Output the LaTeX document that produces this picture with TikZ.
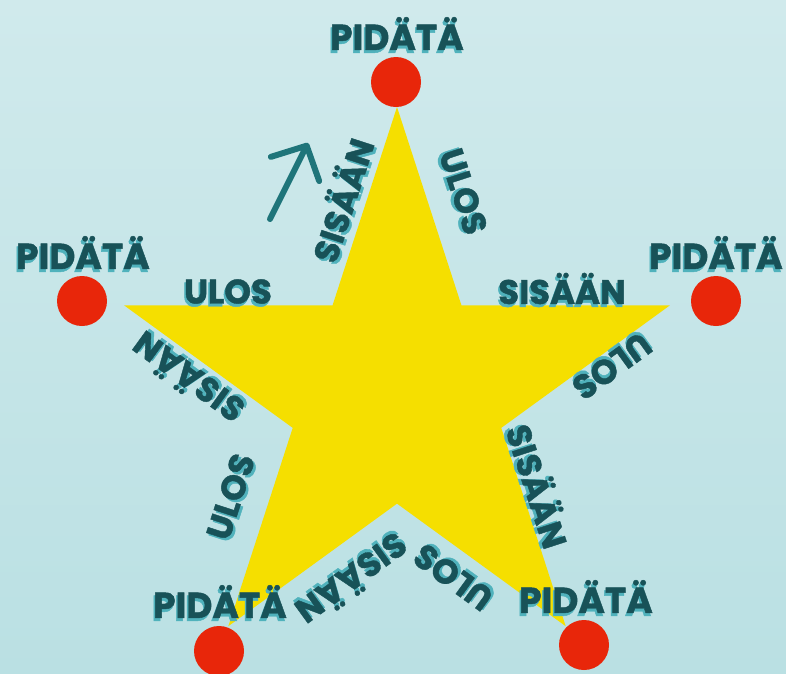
\documentclass[tikz,border=0pt]{standalone}
\usepackage{fontspec}
\setmainfont{Poppins}[BoldFeatures={FakeBold=1.2}]
\usepackage{xcolor}
\usetikzlibrary{shapes.geometric,arrows.meta}
\definecolor{bgtop}{RGB}{208,234,236}
\definecolor{bgbot}{RGB}{186,224,227}
\definecolor{staryellow}{RGB}{245,223,0}
\definecolor{dotred}{RGB}{232,38,10}
\definecolor{darkteal}{RGB}{24,82,88}
\definecolor{lightteal}{RGB}{80,178,188}
\definecolor{arrowteal}{RGB}{31,117,122}

% text with a light offset copy behind it
\newcommand{\shtext}[1]{\rlap{\hspace{-1.5pt}\raisebox{-3pt}{\color{lightteal}#1}}#1}

\begin{document}
\begin{tikzpicture}[
    x=1pt, y=-1pt,
    bigstar/.style={star, star points=5, star point ratio=2.618, minimum size=574pt, inner sep=0pt, fill=staryellow},
    dot/.style={circle, fill=dotred, minimum size=50pt, inner sep=0pt},
    hold/.style={inner sep=0pt, text=darkteal, font=\fontsize{36}{40}\selectfont\bfseries},
    word/.style={inner sep=0pt, text=darkteal, font=\fontsize{34}{38}\selectfont\bfseries},
    cue/.style={line width=6pt, line cap=round, draw=arrowteal, -{Straight Barb[length=26pt, width=54pt, round]}}
]

\fill[top color=bgtop, bottom color=bgbot] (0,0) rectangle (786,673);
\useasboundingbox (0,0) rectangle (786,673);

\node[bigstar] (star) at (397,394) {};

\node[dot] (dtop) at (396,82) {};
\node[dot] (dright) at (716,301) {};
\node[dot] (dleft) at (82,301) {};
\node[dot] (dbotleft) at (219,651) {};
\node[dot] (dbotright) at (584,645) {};

\node[hold] (htop) at (397,35) {\shtext{PIDÄTÄ}};
\node[hold] (hright) at (716,254) {\shtext{PIDÄTÄ}};
\node[hold] (hleft) at (83,254) {\shtext{PIDÄTÄ}};
\node[hold] (hbotleft) at (220,603) {\shtext{PIDÄTÄ}};
\node[hold] (hbotright) at (586,598) {\shtext{PIDÄTÄ}};

\node[word, rotate=72] (in1) at (342,200) {\shtext{SISÄÄN}};
\node[word, rotate=-72] (out1) at (462,192) {\shtext{ULOS}};
\node[word] (in2) at (562,290) {\shtext{SISÄÄN}};
\node[word, rotate=216] (out2) at (611,365) {\shtext{ULOS}};
\node[word, rotate=-72] (in3) at (538,486) {\shtext{SISÄÄN}};
\node[word, rotate=144] (out3) at (454,576) {\shtext{ULOS}};
\node[word, rotate=216] (in4) at (352,579) {\shtext{SISÄÄN}};
\node[word, rotate=72] (out4) at (232,497) {\shtext{ULOS}};
\node[word, rotate=144] (in5) at (188,378) {\shtext{SISÄÄN}};
\node[word] (out5) at (228,293) {\shtext{ULOS}};

\coordinate (cuestart) at (270,219);
\coordinate (cueend) at (308,143);
\draw[cue] (cuestart) -- (cueend);

\end{tikzpicture}
\end{document}
